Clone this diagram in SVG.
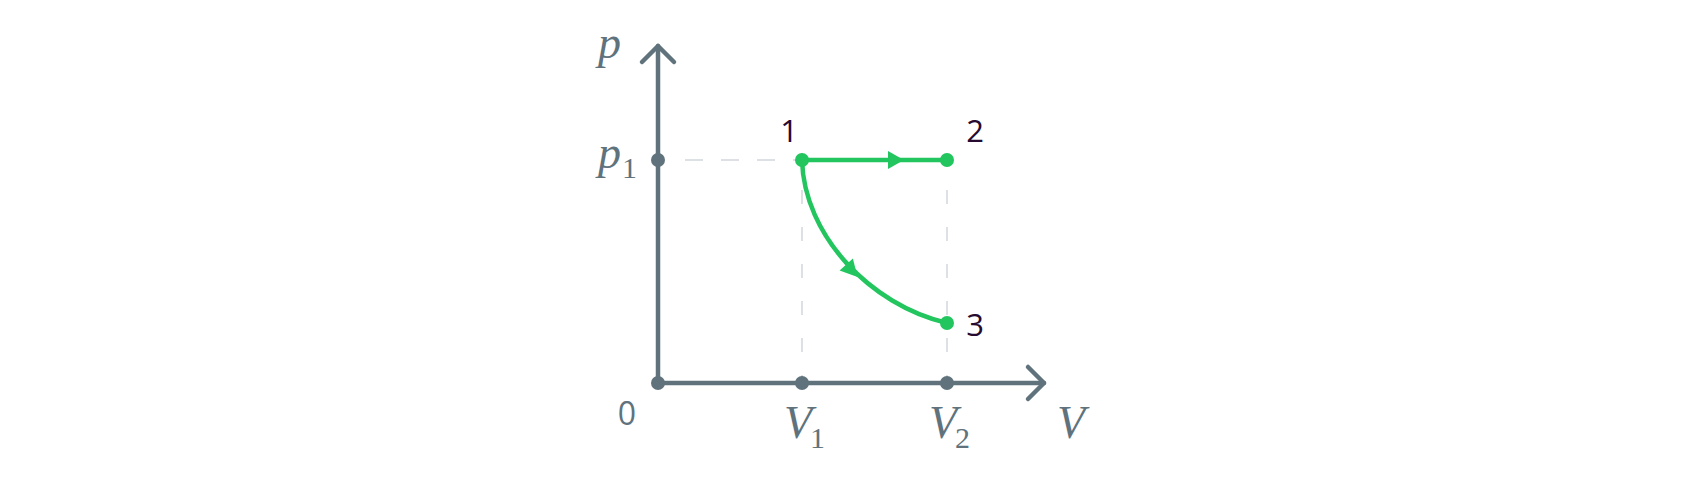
<svg xmlns="http://www.w3.org/2000/svg" width="1687" height="483" viewBox="0 0 1687 483">
<style>
.axis{stroke:#60737d;stroke-width:4.5;fill:none;stroke-linecap:round;stroke-linejoin:round}
.dash{stroke:#dde1e5;stroke-width:2;fill:none}
.path{stroke:#22c55e;stroke-width:4.5;fill:none;stroke-linecap:round}
.arr{fill:#22c55e}
.gdot{fill:#60737d}
.pdot{fill:#22c55e}
.math{font-family:"Liberation Serif",serif;font-style:italic;fill:#60737d}
.sub{font-family:"Liberation Serif",serif;font-style:normal;fill:#60737d}
.num{font-family:"Open Sans","Noto Sans",sans-serif;fill:#260a2f;font-size:31px}
.zero{font-family:"Open Sans","Noto Sans",sans-serif;fill:#60737d;font-size:32px}
</style>
<rect width="1687" height="483" fill="#ffffff"/>
<g id="guides">
<line class="dash" x1="685" y1="160" x2="802" y2="160" stroke-dasharray="18 18"/>
<line class="dash" x1="802" y1="153" x2="802" y2="383" stroke-dasharray="14 23"/>
<line class="dash" x1="947" y1="153" x2="947" y2="383" stroke-dasharray="14 23"/>
</g>
<g id="axes">
<line class="axis" x1="658" y1="383" x2="658" y2="46"/>
<polyline class="axis" points="642,62 658,46 674,62"/>
<line class="axis" x1="658" y1="383" x2="1044" y2="383"/>
<polyline class="axis" points="1028,367 1044,383 1028,399"/>
</g>
<g id="connectors">
<line class="path" x1="802" y1="160" x2="947" y2="160"/>
<polygon class="arr" points="904,160 888,151 888,169"/>
<path class="path" d="M802,160 C804,235 870,305 947,323"/>
<polygon class="arr" points="857.5,277 839.6,270.6 852.9,258.4"/>
</g>
<g id="ticks">
<circle class="gdot" cx="658" cy="160" r="7"/>
<circle class="gdot" cx="658" cy="383" r="7"/>
<circle class="gdot" cx="802" cy="383" r="7"/>
<circle class="gdot" cx="947" cy="383" r="7"/>
</g>
<g id="node-1"><circle class="pdot" cx="802" cy="160" r="7"/><text class="num" x="789" y="142" text-anchor="middle">1</text></g>
<g id="node-2"><circle class="pdot" cx="947" cy="160" r="7"/><text class="num" x="975" y="142" text-anchor="middle">2</text></g>
<g id="node-3"><circle class="pdot" cx="947" cy="323" r="7"/><text class="num" x="975" y="336" text-anchor="middle">3</text></g>
<g id="labels">
<text class="math" x="598" y="58" font-size="46">p</text>
<text class="math" x="598" y="168" font-size="46">p</text>
<text class="sub" x="622" y="178" font-size="30">1</text>
<text class="zero" x="627" y="425" text-anchor="middle">0</text>
<text class="math" x="784" y="438" font-size="46">V</text>
<text class="sub" x="810" y="448" font-size="30">1</text>
<text class="math" x="929" y="438" font-size="46">V</text>
<text class="sub" x="955" y="448" font-size="30">2</text>
<text class="math" x="1057" y="438" font-size="46">V</text>
</g>
</svg>
